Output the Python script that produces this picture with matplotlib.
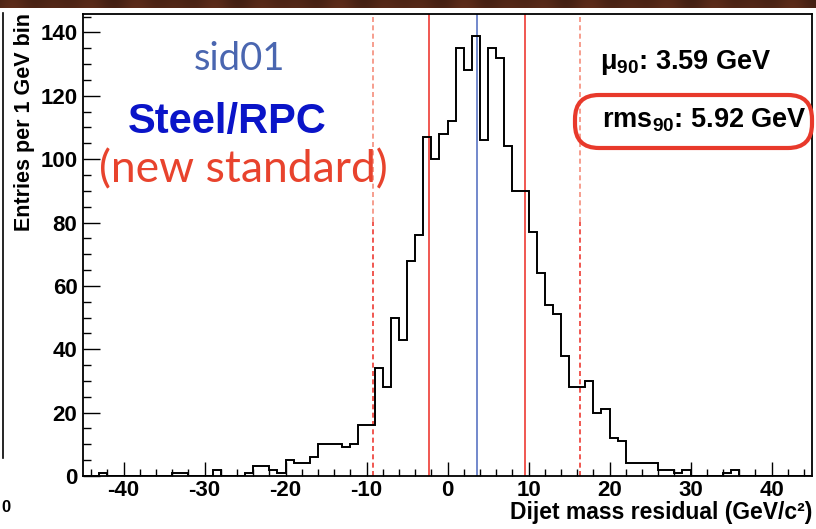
import numpy as np
import matplotlib.pyplot as plt
from matplotlib.patches import FancyBboxPatch
from matplotlib.transforms import IdentityTransform
from matplotlib.lines import Line2D

plt.rcParams['font.family'] = ['Liberation Sans', 'DejaVu Sans']
plt.rcParams['font.weight'] = 'bold'
plt.rcParams['axes.unicode_minus'] = False
plt.rcParams['mathtext.fontset'] = 'custom'
plt.rcParams['mathtext.rm'] = 'Liberation Sans:bold'
plt.rcParams['mathtext.it'] = 'Liberation Sans:bold'
plt.rcParams['mathtext.bf'] = 'Liberation Sans:bold'
plt.rcParams['mathtext.default'] = 'rm'

# dijet mass residual, entries per 1 GeV bin, first bin starts at -45
bin_lo = -45
counts = [0, 0, 1, 0, 0, 0, 0, 0, 0, 0,          # -45 .. -36
          0, 1, 1, 0, 0, 0, 2, 0, 0, 0,          # -35 .. -26
          1, 3, 3, 2, 1, 5, 4, 4, 6, 10,         # -25 .. -16
          10, 10, 9, 10, 16, 16, 34, 28, 50, 43, # -15 .. -6
          68, 76, 107, 100, 108,                 # -5 .. -1
          112, 135, 128, 139, 106, 135, 132, 104, 90, 90,  # 0 .. 9
          77, 64, 54, 51, 38, 28, 28, 30, 20, 21,          # 10 .. 19
          12, 11, 4, 4, 4, 4, 2, 2, 1, 2,                  # 20 .. 29
          0, 0, 0, 0, 1, 2, 0, 0, 0, 0,                    # 30 .. 39
          0, 0, 0, 0, 0]                                   # 40 .. 44

mu90 = 3.59
rms90 = 5.92
window = [-9.2, 16.4]

W, H = 816, 529
fig = plt.figure(figsize=(W / 100, H / 100), dpi=100)

# dark wood strip along the top edge
bax = fig.add_axes([0, 1 - 8 / H, 1, 8 / H])
xx = np.linspace(0, 60, 816)
yy = np.linspace(0, 1, 8)[:, None]
shade = 0.85 + 0.12 * np.sin(xx * 1.7) * np.cos(xx * 0.37) + 0.05 * yy
base = np.array([0.36, 0.17, 0.10])
bax.imshow(np.clip(shade[..., None] * base, 0, 1), aspect='auto',
           extent=[0, 1, 0, 1])
bax.axis('off')

ax = fig.add_axes([83 / W, 1 - 476 / H, (812 - 83) / W, (476 - 14) / H])

edges = np.arange(bin_lo, bin_lo + len(counts) + 1)
ax.stairs(counts, edges, color='black', lw=1.4, baseline=0, zorder=3)

ax.axvline(mu90, color='#5a74c4', lw=1.2, zorder=2)
for x in (mu90 - rms90, mu90 + rms90):
    ax.axvline(x, color='#ee3b33', lw=1.2, zorder=2)
for x in window:
    ax.axvline(x, ymin=0, ymax=0.55, color='#ee3b33', lw=1.2,
               ls=(0, (3, 2)), zorder=2)
    ax.axvline(x, ymin=0.55, ymax=1, color='#f58e7c', lw=1.2,
               ls=(0, (3, 2)), zorder=2)

ax.set_xlim(-45, 45)
ax.set_ylim(0, 145.8)
ax.set_xticks(np.arange(-40, 41, 10))
ax.set_xticks(np.arange(-44, 45, 2), minor=True)
ax.set_yticks(np.arange(0, 141, 20))
ax.set_yticks(np.arange(0, 146, 5), minor=True)
ax.tick_params(which='both', direction='in', top=False, right=False,
               labelsize=16, width=1)
ax.tick_params(axis='x', which='major', length=10, pad=3)
ax.tick_params(axis='x', which='minor', length=5.4)
ax.tick_params(axis='y', which='major', length=12, pad=4)
ax.tick_params(axis='y', which='minor', length=5.8)
for s in ax.spines.values():
    s.set_linewidth(1.3)

fig.text(25 / W, 1 - 13 / H, 'Entries per 1 GeV bin', rotation=90,
         ha='center', va='top', fontsize=15.5)
fig.text(812 / W, 1 - 512 / H, 'Dijet mass residual (GeV/c²)',
         ha='right', va='center', fontsize=16.5)

fig.text(240 / W, 1 - 70 / H, 'sid01', family=['Lato', 'DejaVu Sans'],
         weight='normal', fontsize=27.5, color='#4a66b0',
         ha='center', va='baseline')
fig.text(227 / W, 1 - 133 / H, 'Steel/RPC', fontsize=30, color='#0a14c8',
         ha='center', va='baseline')
fig.text(243 / W, 1 - 170 / H, '(new standard)', family=['Lato', 'DejaVu Sans'],
         weight='normal', fontsize=32, color='#e8432d',
         ha='center', va='center')

fig.text(600 / W, 1 - 69 / H, r'$\mu_{90}$: %.2f GeV' % mu90, fontsize=19.5,
         ha='left', va='baseline')
fig.text(602 / W, 1 - 128 / H, r'rms$_{90}$: %.2f GeV' % rms90, fontsize=19.5,
         ha='left', va='baseline')

box = FancyBboxPatch((575, H - 148), 237, 53,
                     boxstyle='round,pad=0,rounding_size=24',
                     transform=IdentityTransform(), fill=False,
                     ec='#e8392b', lw=3)
fig.add_artist(box)

# edge of the neighbouring panel
fig.add_artist(Line2D([2.5 / W, 2.5 / W], [1 - 13 / H, 1 - 458 / H],
                      color='black', lw=1.2, transform=fig.transFigure))
fig.text(6 / W, 1 - 507 / H, '0', ha='center', va='center', fontsize=12)

fig.savefig('out.png', dpi=100)
